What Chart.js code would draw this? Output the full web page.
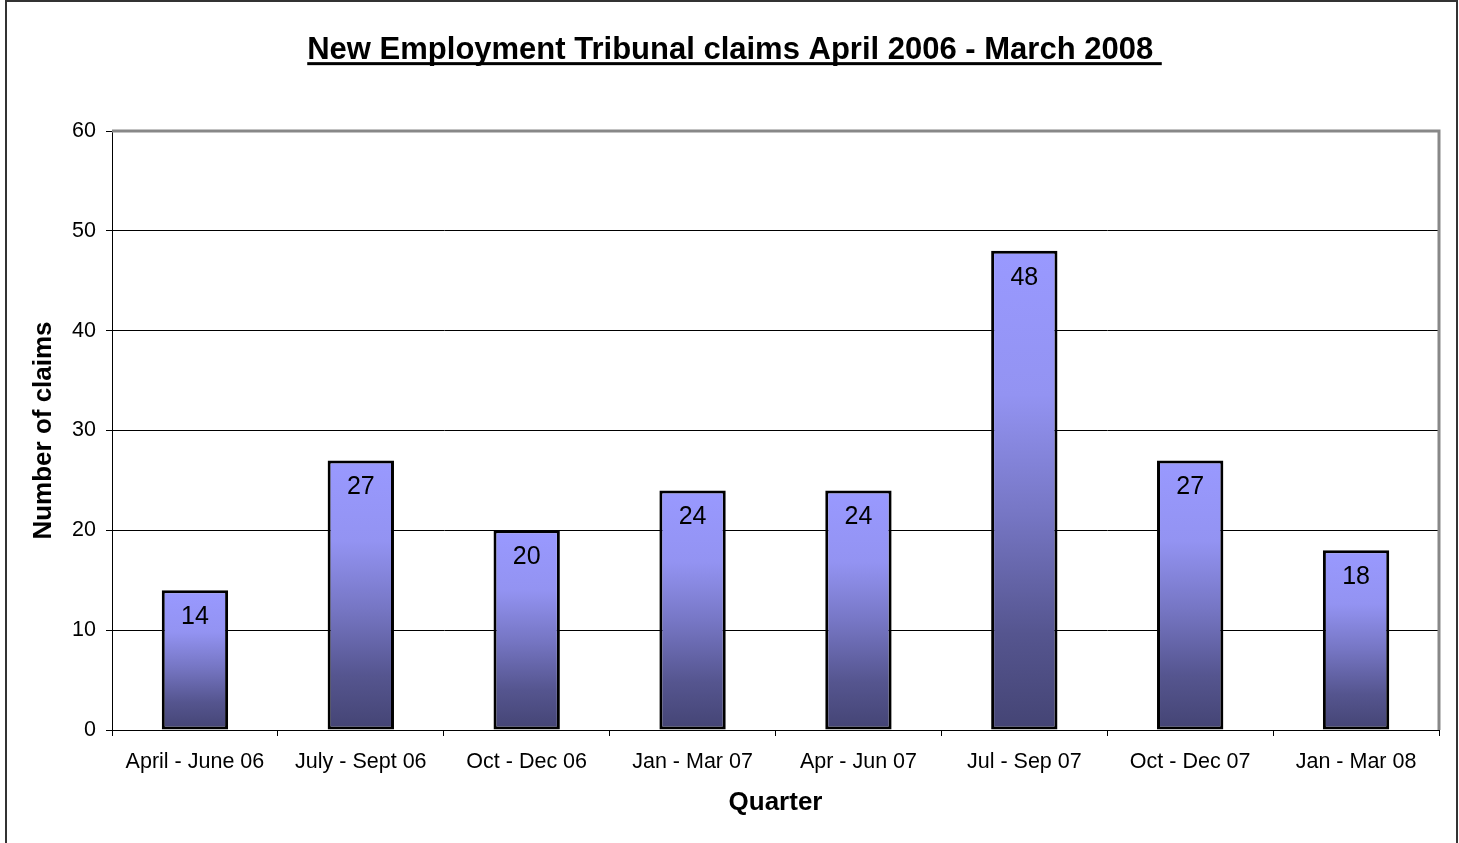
<!DOCTYPE html>
<html>
<head>
<meta charset="utf-8">
<script src="https://cdn.jsdelivr.net/npm/chart.js@4.4.1/dist/chart.umd.min.js"></script>
<style>
  html, body { margin: 0; padding: 0; background: #fff; }
  #wrap { position: absolute; left: 0; top: 0; width: 1459px; height: 843px; }
</style>
</head>
<body>
<div id="wrap"><canvas id="myChart"></canvas></div>
<script>
// data
const quarters = ['April - June 06', 'July - Sept 06', 'Oct - Dec 06', 'Jan - Mar 07',
                  'Apr - Jun 07', 'Jul - Sep 07', 'Oct - Dec 07', 'Jan - Mar 08'];
const claims = [14, 27, 20, 24, 24, 48, 27, 18];
const chartTitle = 'New Employment Tribunal claims April 2006 - March 2008 ';
const yTitle = 'Number of claims';
const xTitle = 'Quarter';

const FONT = "'Liberation Sans', Arial, sans-serif";
const TITLE_SIZE = 31;
const TITLE_PAD_TOP = 32;

Chart.defaults.font.family = FONT;
Chart.defaults.color = '#000';

// bar gradient, light at the top of each bar, dark at its base
function barGradient(context) {
    const chart = context.chart;
    const y = chart.scales.y;
    if (!chart.chartArea || !y) return '#8080d0';
    const top = y.getPixelForValue(context.raw);
    const base = y.getPixelForValue(0);
    const g = chart.ctx.createLinearGradient(0, top, 0, base);
    g.addColorStop(0, '#9999ff');
    g.addColorStop(0.3, '#9393f2');
    g.addColorStop(0.55, '#7676c4');
    g.addColorStop(0.8, '#55558f');
    g.addColorStop(1, '#444474');
    return g;
}

// value labels inside the top of the bars
const valueLabels = {
    id: 'valueLabels',
    afterDatasetsDraw(chart) {
        const ctx = chart.ctx;
        const meta = chart.getDatasetMeta(0);
        ctx.save();
        ctx.font = '25px ' + FONT;
        ctx.fillStyle = '#000';
        ctx.textAlign = 'center';
        ctx.textBaseline = 'middle';
        meta.data.forEach((bar, i) => {
            ctx.fillText(String(claims[i]), bar.x, bar.y + 27);
        });
        ctx.restore();
    }
};

// frame, grey plot border and underlined title
const decorations = {
    id: 'decorations',
    afterDraw(chart) {
        const ctx = chart.ctx;
        const a = chart.chartArea;
        ctx.save();
        // grey border top and right of the plot
        ctx.strokeStyle = '#888';
        ctx.lineWidth = 3;
        ctx.beginPath();
        ctx.moveTo(a.left, a.top);
        ctx.lineTo(a.right, a.top);
        ctx.lineTo(a.right, a.bottom);
        ctx.stroke();
        // outer frame
        ctx.strokeStyle = '#333';
        ctx.lineWidth = 2;
        ctx.strokeRect(6, 1, 1451, 900);
        // title underline
        const tb = chart.titleBlock;
        ctx.font = 'bold ' + TITLE_SIZE + 'px ' + FONT;
        ctx.textBaseline = 'middle';
        const w = ctx.measureText(chartTitle).width;
        const mid = TITLE_PAD_TOP + TITLE_SIZE * 1.2 / 2;
        const base = mid + ctx.measureText('0').actualBoundingBoxDescent;
        const cx = (tb.left + tb.right) / 2;
        ctx.fillStyle = '#000';
        ctx.fillRect(cx - w / 2, base + 3, w, 3);
        ctx.restore();
    }
};

const ctx = document.getElementById('myChart').getContext('2d');
const chart = new Chart(ctx, {
    type: 'bar',
    data: {
        labels: quarters,
        datasets: [{
            data: claims,
            backgroundColor: barGradient,
            borderColor: '#000',
            borderWidth: 3,
            borderSkipped: false,
            barPercentage: 0.4,
            categoryPercentage: 1
        }]
    },
    options: {
        responsive: true,
        maintainAspectRatio: false,
        animation: false,
        layout: { padding: { left: 30, right: 20, top: 0, bottom: 0 } },
        plugins: {
            legend: { display: false },
            tooltip: { enabled: false },
            title: {
                display: true,
                text: chartTitle,
                color: '#000',
                font: { size: TITLE_SIZE, weight: 'bold', lineHeight: 1.2 },
                padding: { top: TITLE_PAD_TOP, bottom: 131 - TITLE_PAD_TOP - TITLE_SIZE * 1.2 }
            }
        },
        scales: {
            x: {
                afterFit(scale) { scale.height = 113; },
                grid: {
                    offset: true,
                    drawOnChartArea: false,
                    color: '#000',
                    tickLength: 6
                },
                border: { color: '#000', width: 1 },
                ticks: { font: { size: 21.5 }, color: '#000', padding: 13, maxRotation: 0, autoSkip: false },
                title: {
                    display: true,
                    text: xTitle,
                    color: '#000',
                    font: { size: 26, weight: 'bold', lineHeight: 1 },
                    padding: { top: 0, bottom: 27 }
                }
            },
            y: {
                min: 0,
                max: 60,
                afterFit(scale) { scale.width = 82; },
                grid: { color: '#000', lineWidth: 1, tickLength: 6 },
                border: { color: '#000', width: 1 },
                ticks: { stepSize: 10, font: { size: 21.5 }, color: '#000', padding: 10 },
                title: {
                    display: true,
                    text: yTitle,
                    color: '#000',
                    font: { size: 26, weight: 'bold', lineHeight: 1 },
                    padding: { top: 1, bottom: 0 }
                }
            }
        }
    },
    plugins: [valueLabels, decorations]
});
</script>
</body>
</html>
